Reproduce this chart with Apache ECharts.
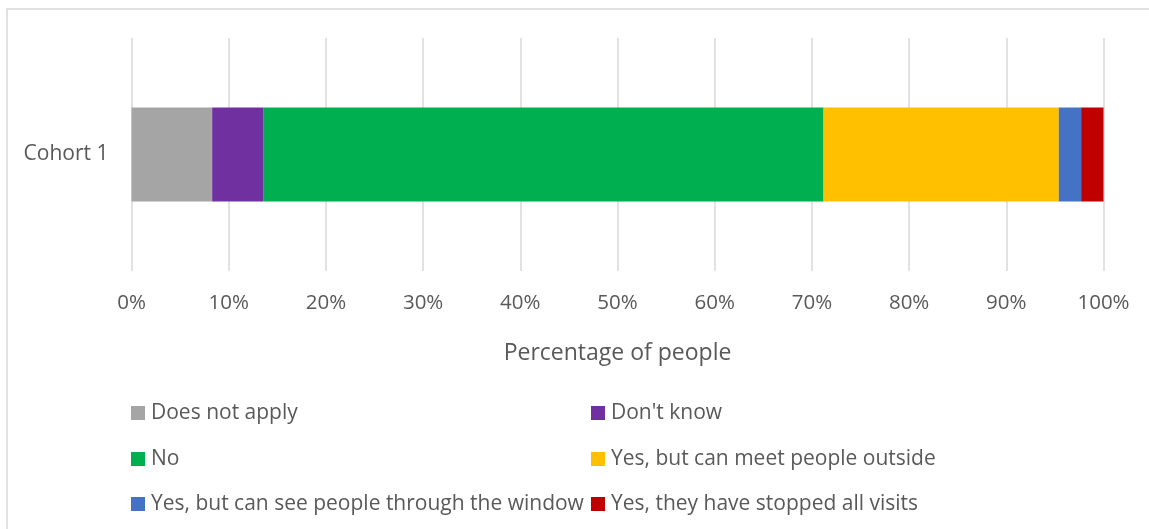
<!DOCTYPE html>
<html>
<head>
<meta charset="utf-8">
<script src="https://cdn.jsdelivr.net/npm/echarts@6/dist/echarts.min.js"></script>
<style>
html,body{margin:0;padding:0;background:#fff;}
#chart{width:1149px;height:529px;}
</style>
</head>
<body>
<div id="chart"></div>
<script>
const categories = ['Cohort 1'];
const seriesNames = ['Does not apply', "Don't know", 'No', 'Yes, but can meet people outside', 'Yes, but can see people through the window', 'Yes, they have stopped all visits'];
const doesNotApply = [8.3];
const dontKnow = [5.3];
const no = [57.6];
const yesOutside = [24.2];
const yesWindow = [2.3];
const yesStopped = [2.3];
const tickLabels = ['0%','10%','20%','30%','40%','50%','60%','70%','80%','90%','100%'];

const seriesValues = [doesNotApply, dontKnow, no, yesOutside, yesWindow, yesStopped];
const colors = ['#A5A5A5', '#7030A0', '#00B050', '#FFC000', '#4472C4', '#C00000'];
const textColor = '#595959';
const font = '"Open Sans", sans-serif';

const legendPos = [
  {left: 131, top: 402},
  {left: 591, top: 402},
  {left: 131, top: 448},
  {left: 591, top: 448},
  {left: 131, top: 493},
  {left: 591, top: 493}
];

const chart = echarts.init(document.getElementById('chart'));
chart.setOption({
  animation: false,
  backgroundColor: '#fff',
  textStyle: {fontFamily: font},
  graphic: [{
    type: 'rect',
    shape: {x: 7, y: 9, width: 1200, height: 600},
    style: {fill: 'none', stroke: '#d9d9d9', lineWidth: 1.5},
    silent: true,
    z: -1
  }],
  grid: {left: 131.5, right: 45.5, top: 38, height: 233, containLabel: false},
  xAxis: {
    type: 'value',
    min: 0, max: 100, interval: 10,
    axisLine: {show: false},
    axisTick: {show: false},
    splitLine: {show: true, lineStyle: {color: '#d9d9d9', width: 1.5}},
    axisLabel: {
      color: textColor, fontSize: 20.5, fontFamily: font, margin: 22,
      formatter: function (v) { return tickLabels[Math.round(v / 10)]; }
    },
    name: 'Percentage of people',
    nameLocation: 'middle',
    nameGap: 71,
    nameTextStyle: {color: textColor, fontSize: 23, fontFamily: font}
  },
  yAxis: {
    type: 'category',
    data: categories,
    axisLine: {show: false},
    axisTick: {show: false},
    axisLabel: {color: textColor, fontSize: 21, fontFamily: font, margin: 23}
  },
  legend: seriesNames.map((n, i) => ({
    data: [n],
    left: legendPos[i].left,
    top: legendPos[i].top,
    padding: 0,
    itemWidth: 14,
    itemHeight: 14,
    icon: 'rect',
    selectedMode: false,
    textStyle: {color: textColor, fontSize: 21, fontFamily: font, lineHeight: 22, padding: [0, 0, 0, 1]}
  })),
  series: seriesNames.map((n, i) => ({
    name: n,
    type: 'bar',
    stack: 'total',
    barWidth: 94,
    itemStyle: {color: colors[i]},
    data: seriesValues[i]
  }))
});
</script>
</body>
</html>
